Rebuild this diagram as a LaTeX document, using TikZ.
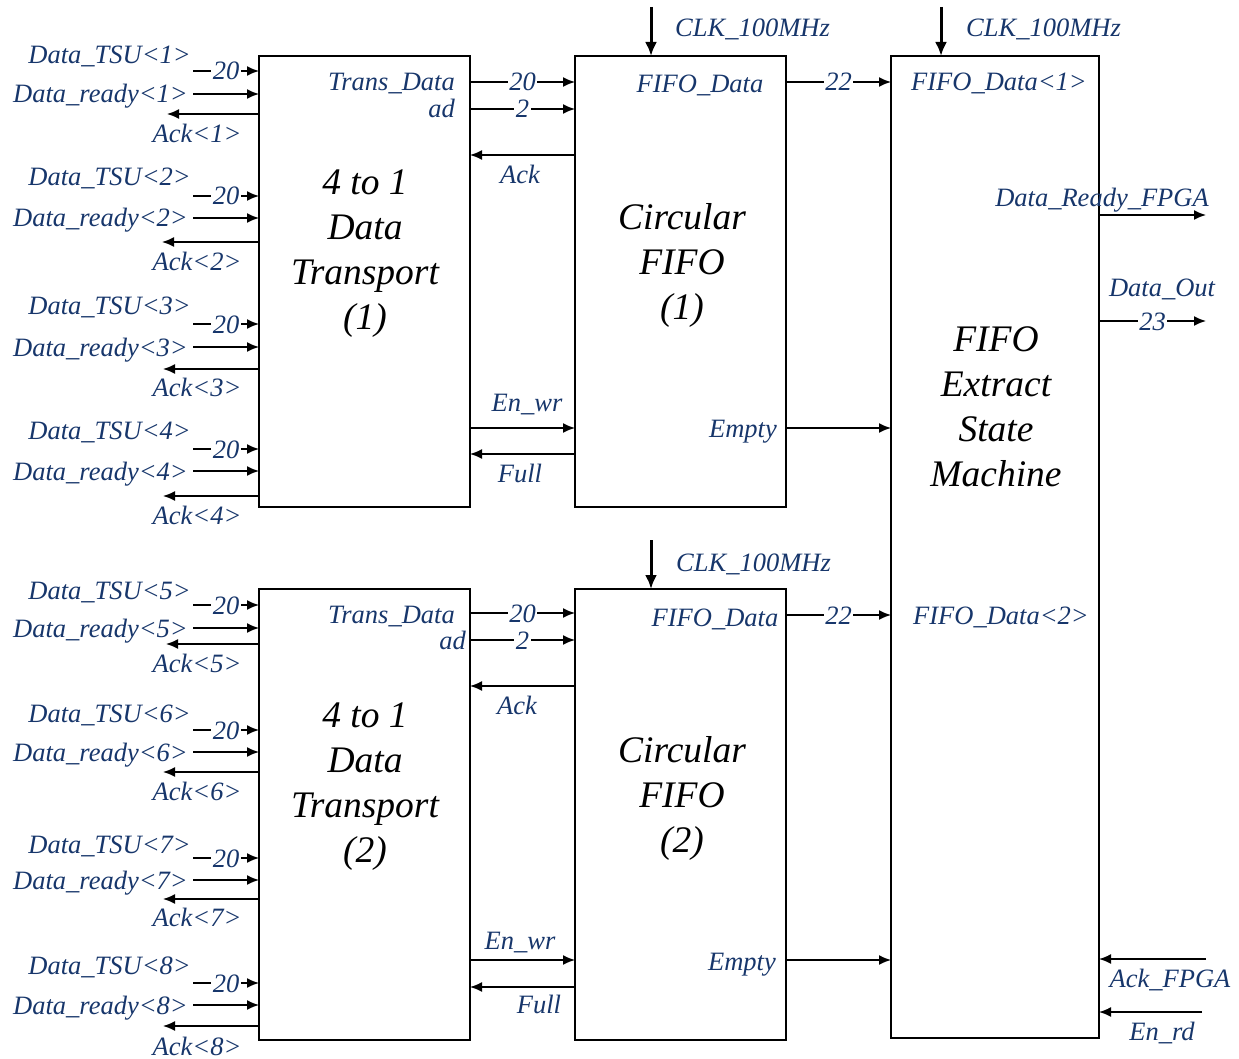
\documentclass[tikz,border=0pt]{standalone}
\usepackage{fontspec}
\setmainfont{Liberation Serif}
\usetikzlibrary{arrows.meta,calc}
\definecolor{lblue}{HTML}{17366B}
\begin{document}
\begin{tikzpicture}[x=1pt,y=-1pt,
  box/.style={draw, line width=1.8pt, inner sep=0pt, outer sep=0pt, anchor=north west},
  lbl/.style={text=lblue, font=\fontsize{26.5}{30}\selectfont\itshape, inner sep=0pt, text height=22pt, text depth=4pt},
  num/.style={lbl, fill=white, inner xsep=1.5pt},
  big/.style={font=\fontsize{37.5}{45}\selectfont\itshape, align=center, inner sep=0pt},
  arr/.style={line width=1.6pt, -{Latex[length=12pt,width=10pt]}},
  clk/.style={line width=3pt, -{Latex[length=14pt,width=12pt]}}]
\useasboundingbox (0,0) rectangle (1239,1059);

% boxes
\node[box, minimum width=211pt, minimum height=451pt] (dt1) at (259,56) {};
\node[box, minimum width=211pt, minimum height=451pt] (cf1) at (575,56) {};
\node[box, minimum width=208pt, minimum height=982pt] (fes) at (891,56) {};
\node[box, minimum width=211pt, minimum height=451pt] (dt2) at (259,589) {};
\node[box, minimum width=211pt, minimum height=451pt] (cf2) at (575,589) {};

% big texts
\node[big] (t1) at (365,254) {4 to 1\\Data\\Transport\\(1)};
\node[big] (t2) at (682,265) {Circular\\FIFO\\(1)};
\node[big] (t3) at (996,407) {FIFO\\Extract\\State\\Machine};
\node[big] (t4) at (365,787) {4 to 1\\Data\\Transport\\(2)};
\node[big] (t5) at (682,798) {Circular\\FIFO\\(2)};

% left inputs
\foreach \k/\bx/\yl/\yt/\yr/\ya/\yal/\tip in {
  1/dt1/55/71/94/114/134/167, 2/dt1/177/196/218/242/262/162,
  3/dt1/305/324/347/369/387/163, 4/dt1/430/449/471/496/515/163,
  5/dt2/590/605/628/644/663/166, 6/dt2/713/730/752/772/791/163,
  7/dt2/844/858/880/899/917/163, 8/dt2/965/983/1005/1026/1046/163}{
  \node[lbl, anchor=east] (tsu\k) at (191,\yl) {Data\_TSU<\k>};
  \coordinate (s\k) at (193,\yt);
  \draw[arr] (s\k) -- node[num] (n\k) {20} (s\k -| \bx.west);
  \node[lbl, anchor=east] (rdy\k) at (188,\yr) {Data\_ready<\k>};
  \coordinate (r\k) at (193,\yr);
  \draw[arr] (r\k) -- (r\k -| \bx.west);
  \coordinate (a\k) at (\tip,\ya);
  \draw[arr] (a\k -| \bx.west) -- (a\k);
  \node[lbl] (ack\k) at (197,\yal) {Ack<\k>};
}

% level coordinates
\foreach \n/\y in {A/82, B/109, C/155, D/428, E/454, F/613, G/640, H/686, I/960, J/987, K/615, R/215, O/321, P/959, Q/1012}{
  \coordinate (L\n) at (0,\y);
}

% DT1 <-> CF1
\draw[arr] (dt1.east |- LA) -- node[num] (m1) {20} (cf1.west |- LA);
\draw[arr] (dt1.east |- LB) -- node[num] (m2) {2} (cf1.west |- LB);
\draw[arr] (cf1.west |- LC) -- (dt1.east |- LC);
\draw[arr] (dt1.east |- LD) -- (cf1.west |- LD);
\draw[arr] (cf1.west |- LE) -- (dt1.east |- LE);
\node[lbl, anchor=east] (td1) at (455,82) {Trans\_Data};
\node[lbl, anchor=east] (ad1) at (455,109) {ad};
\node[lbl] (ak1) at (520,175) {Ack};
\node[lbl] (en1) at (527,402) {En\_wr};
\node[lbl] (fu1) at (520,473) {Full};

% DT2 <-> CF2
\draw[arr] (dt2.east |- LF) -- node[num] (m3) {20} (cf2.west |- LF);
\draw[arr] (dt2.east |- LG) -- node[num] (m4) {2} (cf2.west |- LG);
\draw[arr] (cf2.west |- LH) -- (dt2.east |- LH);
\draw[arr] (dt2.east |- LI) -- (cf2.west |- LI);
\draw[arr] (cf2.west |- LJ) -- (dt2.east |- LJ);
\node[lbl, anchor=east] (td2) at (455,614) {Trans\_Data};
\node[lbl, anchor=east] (ad2) at (466,640) {ad};
\node[lbl] (ak2) at (517,705) {Ack};
\node[lbl] (en2) at (520,940) {En\_wr};
\node[lbl] (fu2) at (539,1004) {Full};

% CF -> FES
\draw[arr] (cf1.east |- LA) -- node[num] (m5) {22} (fes.west |- LA);
\draw[arr] (cf1.east |- LD) -- (fes.west |- LD);
\draw[arr] (cf2.east |- LK) -- node[num] (m6) {22} (fes.west |- LK);
\draw[arr] (cf2.east |- LI) -- (fes.west |- LI);
\node[lbl] (fd1) at (700,84) {FIFO\_Data};
\node[lbl, anchor=east] (em1) at (777,428) {Empty};
\node[lbl] (fd2) at (715,617) {FIFO\_Data};
\node[lbl, anchor=east] (em2) at (776,961) {Empty};

% clocks
\coordinate (c1) at (651,7);
\coordinate (c2) at (941,7);
\coordinate (c3) at (651,540);
\draw[clk] (c1) -- (c1 |- cf1.north);
\draw[clk] (c2) -- (c2 |- fes.north);
\draw[clk] (c3) -- (c3 |- cf2.north);
\node[lbl, anchor=west] (k1) at (675,28) {CLK\_100MHz};
\node[lbl, anchor=west] (k2) at (966,28) {CLK\_100MHz};
\node[lbl, anchor=west] (k3) at (676,562) {CLK\_100MHz};

% FES labels and IO
\node[lbl, anchor=west] (fi1) at (911,82) {FIFO\_Data<1>};
\node[lbl, anchor=west] (fi2) at (913,615) {FIFO\_Data<2>};
\coordinate (o1) at (1206,215);
\coordinate (o2) at (1206,321);
\coordinate (i1) at (1206,959);
\coordinate (i2) at (1202,1012);
\draw[arr] (fes.east |- o1) -- (o1);
\draw[arr] (fes.east |- o2) -- node[num] (m7) {23} (o2);
\draw[arr] (i1) -- (i1 -| fes.east);
\draw[arr] (i2) -- (i2 -| fes.east);
\node[lbl] (dr) at (1102,198) {Data\_Ready\_FPGA};
\node[lbl] (dout) at (1162,288) {Data\_Out};
\node[lbl] (af) at (1170,978) {Ack\_FPGA};
\node[lbl] (er) at (1162,1031) {En\_rd};
\end{tikzpicture}
\end{document}
